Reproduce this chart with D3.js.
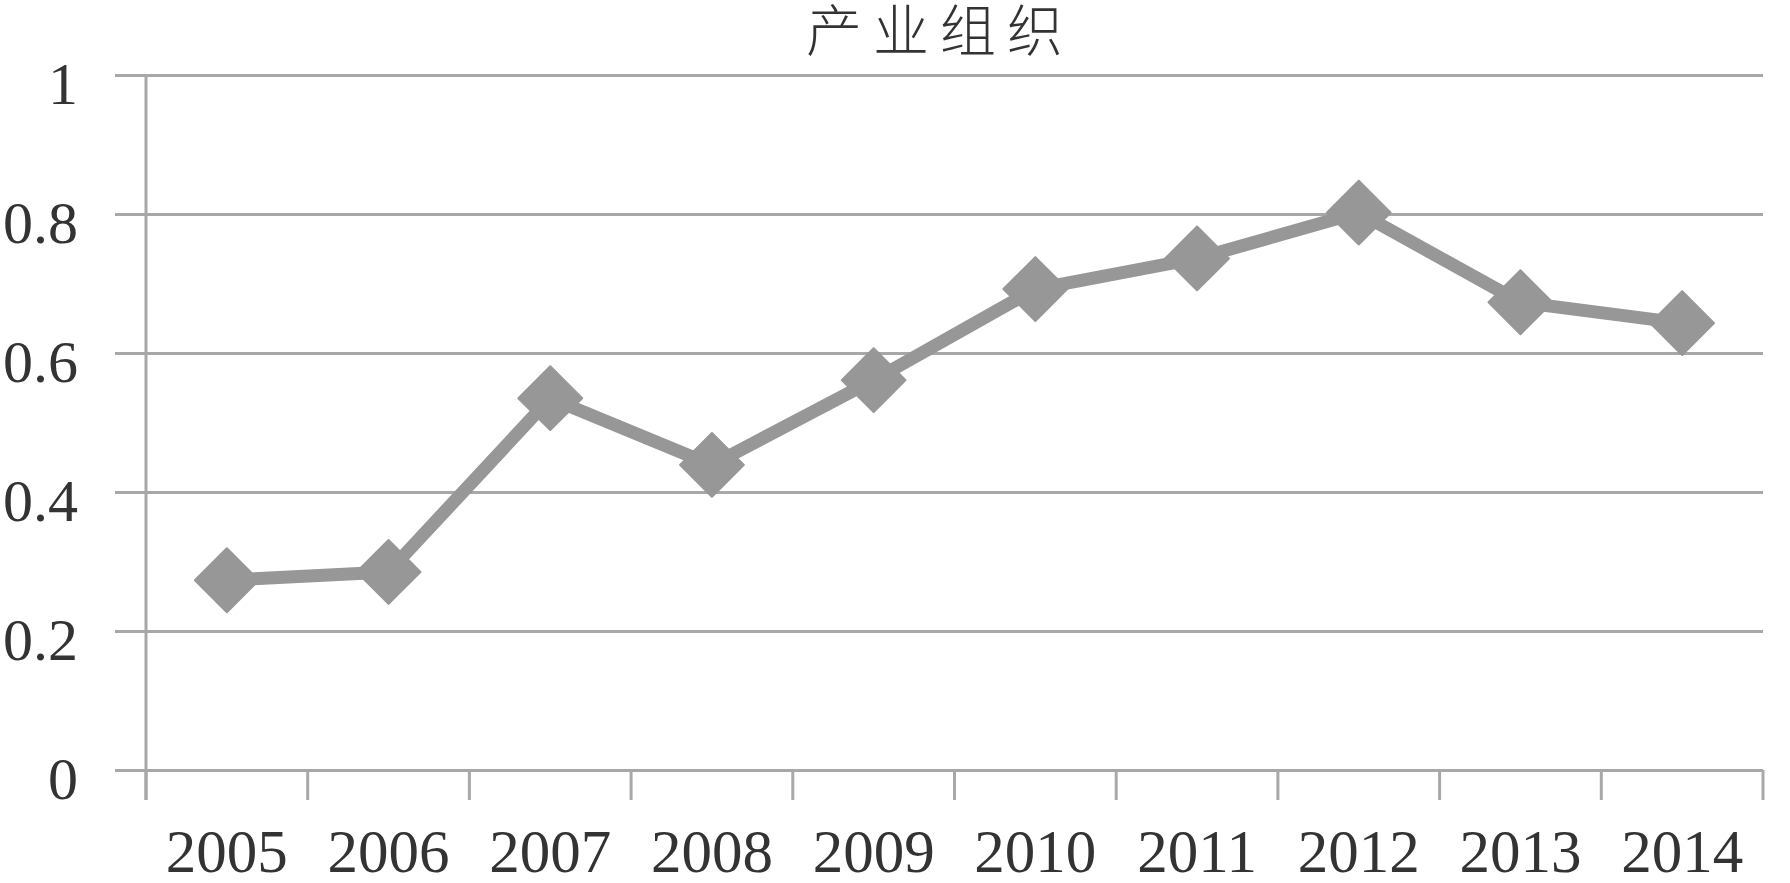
<!DOCTYPE html>
<html>
<head>
<meta charset="utf-8">
<script src="https://cdn.jsdelivr.net/npm/d3@7"></script>
<style>
  html, body { margin: 0; padding: 0; background: #ffffff; }
  svg { display: block; }
</style>
</head>
<body>
<svg id="chart" width="1790" height="883"></svg>
<script>
const title = "产业组织";
const years = ["2005", "2006", "2007", "2008", "2009", "2010", "2011", "2012", "2013", "2014"];
const values = [0.273, 0.285, 0.535, 0.439, 0.561, 0.692, 0.736, 0.802, 0.673, 0.643];
const yTicks = [0, 0.2, 0.4, 0.6, 0.8, 1];
const yTickLabels = ["0", "0.2", "0.4", "0.6", "0.8", "1"];

(function () {
const svg = d3.select("#chart");
const plotLeft = 146, plotRight = 1763, plotTop = 75, plotBottom = 770;
const gridColor = "#a8a8a8";
const seriesColor = "#979797";
const textColor = "#333333";
const numFont = "'Liberation Serif', 'Times New Roman', serif";

const x = d3.scaleBand().domain(years).range([plotLeft, plotRight]).paddingInner(0).paddingOuter(0);
const y = d3.scaleLinear().domain([0, 1]).range([plotBottom, plotTop]);

// Y axis with gridlines
const yAxis = d3.axisLeft(y).tickValues(yTicks)
  .tickFormat((d, i) => yTickLabels[i])
  .tickSize(0).tickPadding(68);
const gy = svg.append("g").attr("transform", `translate(${plotLeft},0)`).call(yAxis);
gy.select(".domain").remove();
gy.selectAll(".tick line")
  .attr("x1", -31).attr("x2", plotRight - plotLeft)
  .attr("stroke", gridColor).attr("stroke-width", 3);
gy.selectAll(".tick text")
  .attr("font-family", numFont).attr("font-size", 60)
  .attr("fill", textColor).attr("dy", 28);

// vertical axis line
svg.append("line")
  .attr("x1", plotLeft).attr("x2", plotLeft)
  .attr("y1", y(1)).attr("y2", plotBottom + 30)
  .attr("stroke", gridColor).attr("stroke-width", 3);

// X axis ticks at band boundaries
const boundaries = years.map(d => x(d)).concat([x(years[years.length - 1]) + x.bandwidth()]);
svg.append("g").selectAll("line").data(boundaries).join("line")
  .attr("x1", d => d).attr("x2", d => d)
  .attr("y1", plotBottom).attr("y2", plotBottom + 30)
  .attr("stroke", gridColor).attr("stroke-width", 3);

// X labels
svg.append("g").selectAll("text").data(years).join("text")
  .attr("x", d => x(d) + x.bandwidth() / 2)
  .attr("y", 872)
  .attr("text-anchor", "middle")
  .attr("font-family", numFont).attr("font-size", 61)
  .attr("fill", textColor)
  .text(d => d);

// Series line
const pts = years.map((d, i) => [x(d) + x.bandwidth() / 2, y(values[i])]);
svg.append("path")
  .attr("d", d3.line()(pts))
  .attr("fill", "none")
  .attr("stroke", seriesColor)
  .attr("stroke-width", 13)
  .attr("stroke-linejoin", "round");

// Diamond markers
const diamond = d3.symbol().type(d3.symbolDiamond2).size(2600);
svg.append("g").selectAll("path").data(pts).join("path")
  .attr("transform", d => `translate(${d[0]},${d[1]})`)
  .attr("d", diamond)
  .attr("fill", seriesColor)
  .attr("stroke", seriesColor)
  .attr("stroke-width", 2)
  .attr("stroke-linejoin", "round");

// Title
svg.append("text")
  .attr("x", 940).attr("y", 51)
  .attr("text-anchor", "middle")
  .attr("font-family", "'Noto Sans CJK SC', sans-serif")
  .attr("font-weight", 300)
  .attr("font-size", 56)
  .attr("letter-spacing", 11)
  .attr("fill", textColor)
  .text(title);
})();
</script>
</body>
</html>
